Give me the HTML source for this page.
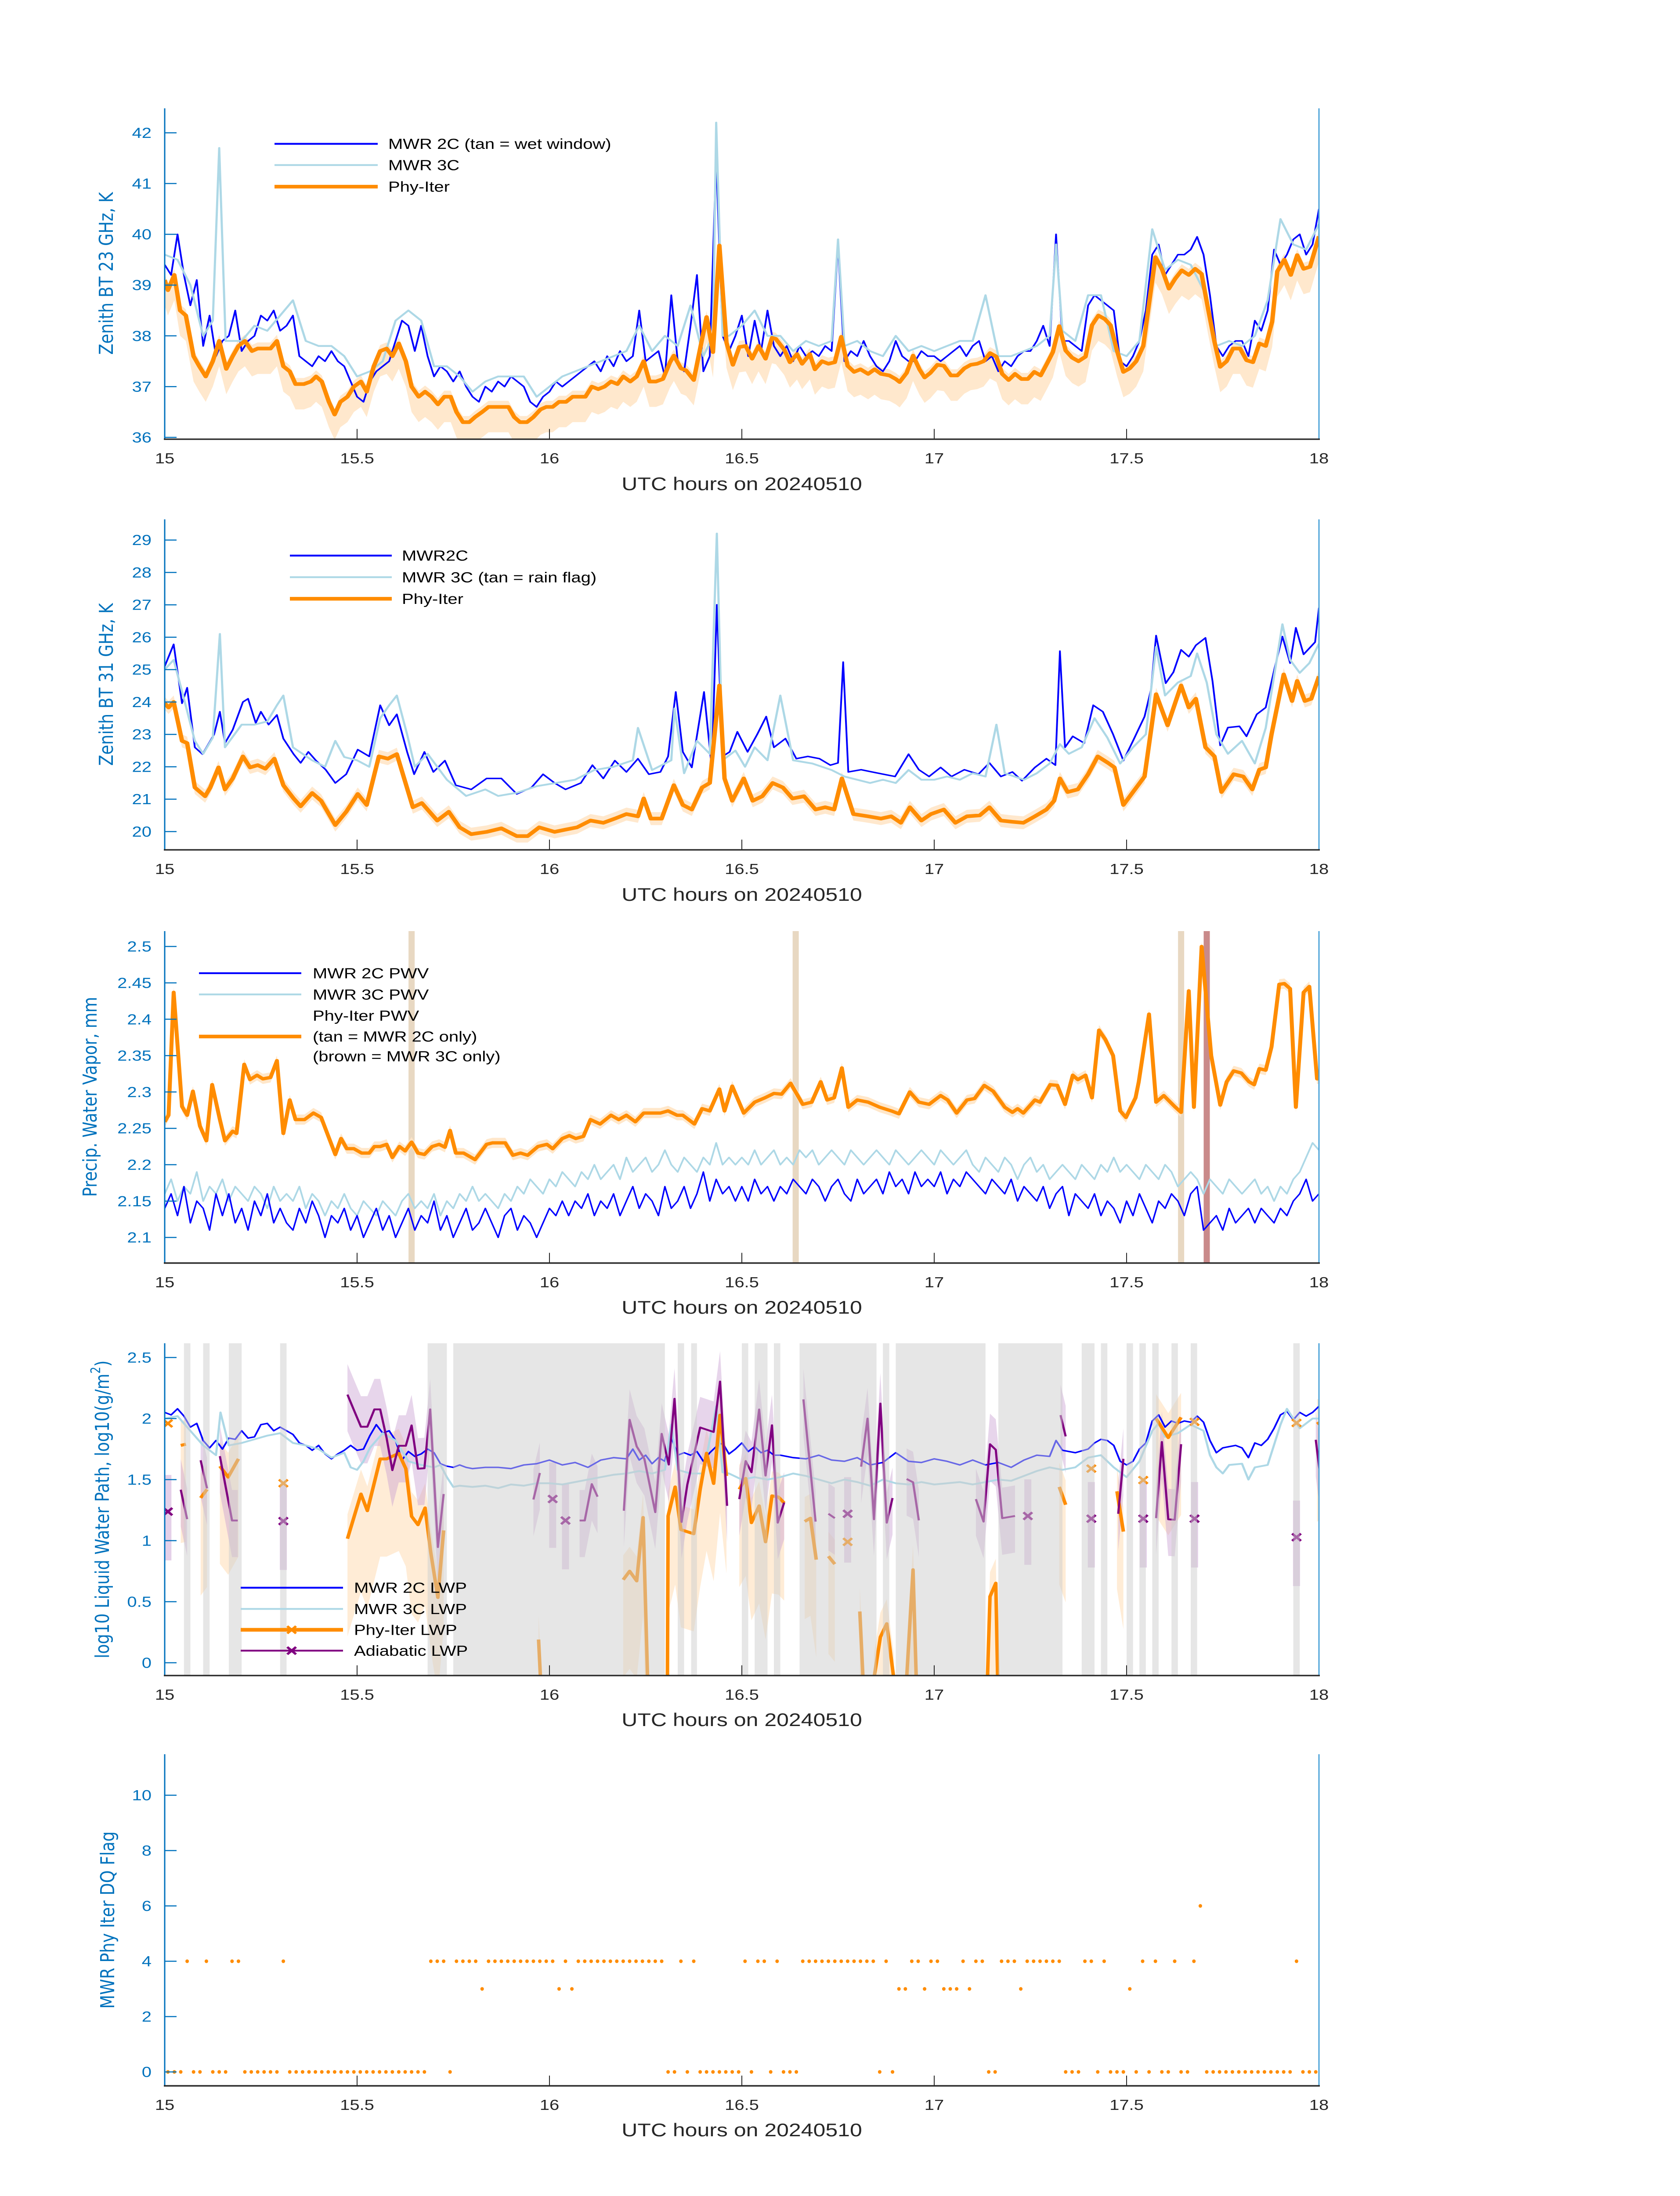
<!DOCTYPE html>
<html><head><meta charset="utf-8"><title>MWR comparison 20240510</title>
<style>
html,body{margin:0;padding:0;background:#fff;width:100%;height:100%;overflow:hidden;}
svg{display:block;position:absolute;left:0;top:0;width:100vw;height:100vh;}
text{font-family:"Liberation Sans",sans-serif;}
.yl{font-family:"DejaVu Sans","Liberation Sans",sans-serif;}
</style></head>
<body>
<svg id="chart" xmlns="http://www.w3.org/2000/svg" viewBox="0 0 3825 6000" preserveAspectRatio="none">
<rect x="0" y="0" width="3825" height="6000" fill="#ffffff"/>
<g id="layer"></g>
<g id="labels">
<text class="yl" x="242" y="747" font-size="44" fill="#0072BD" text-anchor="middle" dominant-baseline="central" transform="rotate(-90 242 747)">Zenith BT 23 GHz, K</text>
<text class="yl" x="242" y="1870" font-size="44" fill="#0072BD" text-anchor="middle" dominant-baseline="central" transform="rotate(-90 242 1870)">Zenith BT 31 GHz, K</text>
<text class="yl" x="205" y="2997" font-size="44" fill="#0072BD" text-anchor="middle" dominant-baseline="central" transform="rotate(-90 205 2997)">Precip. Water Vapor, mm</text>
<text class="yl" x="233" y="4124" font-size="44" fill="#0072BD" text-anchor="middle" dominant-baseline="central" transform="rotate(-90 233 4124)">log10 Liquid Water Path, log10(g/m<tspan font-size="30" dy="-16">2</tspan><tspan dy="16">)</tspan></text>
<text class="yl" x="245" y="5246" font-size="44" fill="#0072BD" text-anchor="middle" dominant-baseline="central" transform="rotate(-90 245 5246)">MWR Phy Iter DQ Flag</text>
<text x="1689" y="1339" font-size="50" fill="#262626" text-anchor="middle">UTC hours on 20240510</text>
<text x="1689" y="2461" font-size="50" fill="#262626" text-anchor="middle">UTC hours on 20240510</text>
<text x="1689" y="3589" font-size="50" fill="#262626" text-anchor="middle">UTC hours on 20240510</text>
<text x="1689" y="4716" font-size="50" fill="#262626" text-anchor="middle">UTC hours on 20240510</text>
<text x="1689" y="5837" font-size="50" fill="#262626" text-anchor="middle">UTC hours on 20240510</text>
<g>
<line x1="625" y1="393" x2="860" y2="393" stroke="#0000FF" stroke-width="5"/>
<text x="884" y="407" font-size="40">MWR 2C (tan = wet window)</text>
<line x1="625" y1="451" x2="860" y2="451" stroke="#ADD8E6" stroke-width="5"/>
<text x="884" y="465" font-size="40">MWR 3C</text>
<line x1="625" y1="510" x2="860" y2="510" stroke="#FF8C00" stroke-width="10"/>
<text x="884" y="524" font-size="40">Phy-Iter</text>
</g>
<g>
<line x1="660" y1="1518" x2="892" y2="1518" stroke="#0000FF" stroke-width="5"/>
<text x="915" y="1532" font-size="40">MWR2C</text>
<line x1="660" y1="1577" x2="892" y2="1577" stroke="#ADD8E6" stroke-width="5"/>
<text x="915" y="1591" font-size="40">MWR 3C (tan = rain flag)</text>
<line x1="660" y1="1636" x2="892" y2="1636" stroke="#FF8C00" stroke-width="10"/>
<text x="915" y="1650" font-size="40">Phy-Iter</text>
</g>
<g>
<line x1="453" y1="2659" x2="686" y2="2659" stroke="#0000FF" stroke-width="5"/>
<text x="712" y="2673" font-size="40">MWR 2C PWV</text>
<line x1="453" y1="2717" x2="686" y2="2717" stroke="#ADD8E6" stroke-width="5"/>
<text x="712" y="2731" font-size="40">MWR 3C PWV</text>
<text x="712" y="2789" font-size="40">Phy-Iter PWV</text>
<line x1="453" y1="2832" x2="686" y2="2832" stroke="#FF8C00" stroke-width="10"/>
<text x="712" y="2846" font-size="40">(tan = MWR 2C only)</text>
<text x="712" y="2900" font-size="40">(brown = MWR 3C only)</text>
</g>
<g>
<line x1="548" y1="4338" x2="781" y2="4338" stroke="#0000FF" stroke-width="5"/>
<text x="806" y="4352" font-size="40">MWR 2C LWP</text>
<line x1="548" y1="4396" x2="781" y2="4396" stroke="#ADD8E6" stroke-width="5"/>
<text x="806" y="4410" font-size="40">MWR 3C LWP</text>
<line x1="548" y1="4453" x2="781" y2="4453" stroke="#FF8C00" stroke-width="10"/>
<path d="M654 4443 L674 4463 M654 4463 L674 4443" stroke="#FF8C00" stroke-width="6"/>
<text x="806" y="4467" font-size="40">Phy-Iter LWP</text>
<line x1="548" y1="4510" x2="781" y2="4510" stroke="#800080" stroke-width="5"/>
<path d="M654 4500 L674 4520 M654 4520 L674 4500" stroke="#800080" stroke-width="6"/>
<text x="806" y="4524" font-size="40">Adiabatic LWP</text>
</g>
</g>
</svg>
<script>
// ===== x categories: ticks (minutes after 15 UTC) =====
const xTickMin = [0, 30, 60, 90, 120, 150, 180];
const xTickLabels = ["15", "15.5", "16", "16.5", "17", "17.5", "18"];

// ===== Panel 1: 23 GHz BT =====
const bt23Ticks = [36, 37, 38, 39, 40, 41, 42];
const bt23_2c = [39.4,39.2,40.0,39.2,38.6,39.1,37.8,38.4,37.6,37.9,38.0,38.5,37.7,37.9,38.0,38.4,38.3,38.5,38.1,38.2,38.4,37.6,37.5,37.4,37.6,37.5,37.7,37.5,37.4,37.1,36.8,36.7,37.1,37.3,37.4,37.5,37.9,38.3,38.2,37.7,38.2,37.6,37.2,37.4,37.3,37.1,37.3,37.0,36.8,36.7,37.0,36.9,37.1,37.0,37.2,37.1,37.0,36.7,36.6,36.8,36.9,37.1,37.0,37.1,37.2,37.3,37.4,37.5,37.3,37.6,37.4,37.7,37.5,37.6,38.5,37.5,37.6,37.7,37.2,38.8,37.5,37.3,38.2,39.2,37.3,37.6,41.5,38.0,37.7,38.0,38.4,37.6,38.3,37.7,38.5,37.8,37.6,37.8,37.5,37.8,37.6,37.7,37.6,37.8,37.7,39.8,37.5,37.7,37.6,37.9,37.6,37.4,37.3,37.5,37.9,37.6,37.5,37.5,37.7,37.6,37.6,37.5,37.6,37.7,37.8,37.6,37.8,37.9,37.5,37.6,37.3,37.5,37.4,37.6,37.7,37.7,37.9,38.2,37.8,40.0,37.9,37.9,37.8,37.7,38.6,38.8,38.7,38.6,38.5,37.5,37.4,37.6,37.9,38.5,39.6,39.8,39.2,39.4,39.6,39.6,39.7,39.95,39.6,38.8,37.8,37.6,37.8,37.9,37.9,37.6,38.3,38.1,38.5,39.7,39.4,39.6,39.9,40.0,39.6,39.8,40.5];
const bt23_3c = [[0,39.6],[2,39.5],[4,39.0],[6,38.0],[7.5,38.3],[8.5,41.7],[9.5,37.9],[12,37.9],[14,38.2],[16,38.1],[18,38.4],[20,38.7],[22,37.9],[24,37.8],[26,37.8],[28,37.6],[30,37.2],[32,37.3],[34,37.5],[36,38.3],[38,38.5],[40,38.3],[42,37.4],[44,37.4],[46,37.2],[48,36.9],[50,37.1],[52,37.2],[54,37.2],[56,37.2],[58,36.8],[60,37.0],[62,37.2],[64,37.3],[66,37.4],[68,37.5],[70,37.6],[72,37.7],[74,38.2],[76,37.7],[78,38.0],[80,37.8],[82,38.6],[84,37.6],[85.5,38.0],[86,42.2],[87,38.0],[88,38.0],[90,38.2],[92,38.5],[94,38.0],[96,38.0],[98,37.7],[100,37.9],[102,37.8],[104,37.9],[105,39.9],[106,37.8],[108,37.9],[110,37.7],[112,37.6],[114,38.0],[116,37.7],[118,37.8],[120,37.7],[122,37.8],[124,37.9],[126,37.9],[128,38.8],[130,37.6],[132,37.6],[134,37.7],[136,37.8],[138,38.0],[139,39.8],[140,38.1],[142,37.9],[144,38.8],[146,38.8],[148,37.7],[150,37.6],[152,37.9],[154,40.1],[156,39.3],[158,39.5],[160,39.4],[162,38.9],[164,37.8],[166,37.9],[168,37.8],[170,38.0],[172,38.7],[174,40.3],[176,39.8],[178,39.7],[180,40.2]];
const bt23_phy = [[0,39.1],[0.5,38.9],[1.5,39.2],[2.4,38.5],[3.3,38.4],[4.5,37.6],[5.4,37.4],[6.4,37.2],[7.5,37.5],[8.5,37.9],[9.6,37.35],[10.6,37.6],[11.5,37.8],[12.5,37.9],[13.6,37.7],[14.5,37.75],[15.5,37.75],[16.5,37.75],[17.5,37.9],[18.5,37.4],[19.5,37.3],[20.4,37.05],[21.7,37.05],[22.8,37.1],[23.6,37.2],[24.5,37.1],[25.6,36.7],[26.5,36.45],[27.4,36.7],[28.5,36.8],[29.5,37.0],[30.6,37.1],[31.5,36.9],[32.6,37.4],[33.6,37.7],[34.6,37.75],[35.5,37.6],[36.5,37.85],[37.6,37.5],[38.5,37.0],[39.6,36.8],[40.6,36.9],[41.6,36.8],[42.6,36.65],[43.6,36.8],[44.6,36.8],[45.5,36.5],[46.5,36.3],[47.5,36.3],[48.4,36.4],[49.5,36.5],[50.5,36.6],[51.6,36.6],[52.5,36.6],[53.6,36.6],[54.5,36.4],[55.4,36.3],[56.5,36.3],[57.5,36.4],[58.6,36.55],[59.5,36.6],[60.5,36.6],[61.5,36.7],[62.6,36.7],[63.6,36.8],[64.5,36.8],[65.6,36.8],[66.6,37.0],[67.6,36.95],[68.6,37.0],[69.6,37.1],[70.6,37.05],[71.5,37.2],[72.6,37.1],[73.6,37.2],[74.7,37.5],[75.6,37.1],[76.6,37.1],[77.7,37.15],[78.8,37.48],[79.4,37.61],[80.5,37.36],[81.3,37.32],[82.5,37.13],[83.5,37.75],[84.5,38.37],[85.5,37.68],[86.5,39.78],[87.6,37.87],[88.6,37.43],[89.6,37.78],[90.6,37.8],[91.6,37.55],[92.6,37.8],[93.7,37.55],[94.7,37.96],[95.3,37.94],[96.6,37.73],[97.5,37.48],[98.6,37.64],[99.4,37.45],[100.6,37.64],[101.4,37.34],[102.5,37.5],[103.5,37.45],[104.5,37.48],[105.5,37.98],[106.5,37.41],[107.5,37.29],[108.5,37.34],[109.7,37.25],[110.7,37.34],[111.7,37.25],[113,37.22],[114,37.15],[114.6,37.09],[115.7,37.27],[116.7,37.61],[117.7,37.34],[118.5,37.18],[119.4,37.27],[120.5,37.43],[121.5,37.41],[122.6,37.22],[123.6,37.22],[124.7,37.36],[125.7,37.43],[126.7,37.45],[127.7,37.5],[128.7,37.66],[129.7,37.59],[130.6,37.25],[131.6,37.13],[132.6,37.25],[133.6,37.15],[134.6,37.15],[135.6,37.29],[136.6,37.22],[137.7,37.48],[138.5,37.68],[139.5,38.19],[140.5,37.71],[141.5,37.57],[142.5,37.5],[143.6,37.59],[144.6,38.21],[145.6,38.4],[146.6,38.33],[147.5,38.21],[148.5,37.71],[149.5,37.29],[150.5,37.36],[151.5,37.5],[152.6,37.8],[153.4,38.54],[154.5,39.55],[155.5,39.32],[156.6,38.93],[157.6,39.13],[158.6,39.29],[159.7,39.2],[160.7,39.32],[161.7,39.22],[162.7,38.54],[163.7,37.89],[164.6,37.39],[165.6,37.5],[166.6,37.75],[167.7,37.75],[168.7,37.52],[169.7,37.48],[170.7,37.85],[171.7,37.8],[172.7,38.28],[173.5,39.27],[174.6,39.5],[175.6,39.2],[176.6,39.59],[177.6,39.32],[178.6,39.36],[180,39.96]];

// ===== Panel 2: 31 GHz BT =====
const bt31Ticks = [20, 21, 22, 23, 24, 25, 26, 27, 28, 29];
const bt31_2c = [[0,25.1],[1.4,25.78],[2.7,23.96],[3.5,24.44],[4.7,22.6],[5.9,22.39],[7.7,23.0],[8.6,23.7],[9.4,22.73],[10.6,23.14],[12.2,24.0],[13,24.1],[14.2,23.35],[15,23.7],[16.2,23.3],[17.5,23.6],[18.5,22.87],[20.1,22.39],[21.2,22.12],[22.4,22.46],[23.6,22.19],[25.1,21.91],[26.6,21.5],[28.3,21.77],[30.1,22.53],[31.9,22.32],[33.6,23.9],[35,23.28],[36.2,23.62],[37.8,22.46],[38.9,21.77],[40.5,22.46],[41.9,21.84],[43.7,22.19],[45.4,21.43],[47.8,21.3],[50.2,21.64],[52.5,21.64],[54.9,21.16],[57.2,21.36],[59,21.77],[60.8,21.5],[62.5,21.3],[64.9,21.5],[66.7,22.05],[68.4,21.64],[70.2,22.19],[72,21.84],[73.8,22.25],[75.5,21.77],[77.3,21.84],[78.5,22.32],[79.7,24.31],[80.8,22.46],[82.2,21.98],[84.1,24.31],[85.3,21.98],[86.1,27.0],[87,22.32],[88.1,22.46],[89.3,23.08],[90.9,22.46],[92.4,23.0],[93.8,23.55],[95,22.6],[96.8,22.87],[98.5,22.25],[100.3,22.32],[102.1,22.25],[103.8,22.05],[105,22.12],[105.8,25.23],[106.6,21.84],[108.6,21.91],[110.3,21.84],[112.1,21.77],[113.9,21.7],[116,22.39],[117.6,21.91],[119.2,21.7],[121,21.98],[122.7,21.7],[124.7,21.91],[126.9,21.77],[128.6,22.12],[130.4,21.7],[132.2,21.84],[133.7,21.57],[135.7,21.98],[137.5,22.25],[138.9,22.05],[139.6,25.57],[140.4,22.6],[141.6,22.94],[143.4,22.73],[144.8,23.9],[146.3,23.7],[147.9,23.0],[149.5,22.19],[151,22.8],[152.8,23.55],[153.8,24.38],[154.6,26.05],[156.1,24.58],[157.3,24.92],[158.5,25.61],[159.7,25.4],[160.8,25.75],[162.3,25.98],[163.4,24.65],[164.6,22.66],[165.8,23.21],[167.6,23.25],[168.7,22.94],[170.3,23.62],[171.7,23.83],[173.1,25.06],[174.3,26.02],[175.5,25.2],[176.4,26.29],[177.6,25.47],[179.4,25.85],[180,26.91]];
const bt31_3c = [[0,25.0],[1.4,25.3],[3,24.1],[4.7,22.8],[6,22.4],[7.5,22.9],[8.6,26.1],[9.4,22.6],[12,23.3],[14,23.3],[16,23.4],[17.5,23.9],[18.5,24.2],[20,22.6],[23,22.2],[25,22.0],[26.6,22.8],[28,22.3],[30,22.2],[31.9,22.0],[33.6,23.5],[35,23.9],[36.2,24.2],[37.8,23.0],[39,22.0],[41,22.4],[44,21.6],[47,21.1],[50,21.3],[52,21.1],[55,21.2],[58,21.4],[61,21.5],[64,21.6],[67,21.9],[70,22.0],[73,22.2],[73.8,23.2],[76,21.9],[79,22.2],[79.5,23.8],[81,21.8],[83,22.8],[85,22.4],[86.1,29.2],[87,22.2],[89,22.5],[90.5,22.0],[92,22.6],[94,22.2],[96,24.2],[98,22.2],[101,22.1],[104,21.9],[106,21.7],[108,21.6],[110,21.5],[112,21.6],[114,21.5],[116,21.9],[118,21.6],[120,21.6],[122,21.7],[124,21.6],[126,21.8],[128,21.7],[129.7,23.3],[131,21.8],[134,21.6],[136,21.8],[138,22.1],[139.6,22.7],[141,22.4],[143,22.6],[145,23.5],[147,22.9],[149,22.1],[151,22.6],[153,23.0],[154.6,25.7],[156,24.2],[158,24.6],[160,24.8],[161,25.5],[162.5,24.6],[164,23.0],[165.8,22.4],[168,22.8],[170,22.1],[171.7,23.2],[173,24.8],[174.3,26.4],[175.5,25.3],[177,24.9],[178.5,25.2],[180,25.8]];
const bt31_phy = [[0,23.96],[0.6,23.83],[1.4,24.0],[2.7,22.8],[3.5,22.73],[4.7,21.36],[6.3,21.09],[7.1,21.36],[8.4,21.98],[9.4,21.3],[10.6,21.64],[12.2,22.32],[13.3,21.98],[14.5,22.05],[15.7,21.94],[17.1,22.25],[18.5,21.43],[20.1,21.02],[21.2,20.78],[23,21.19],[24.4,20.95],[26.6,20.2],[28.3,20.61],[30.1,21.16],[31.5,20.82],[33.4,22.32],[34.8,22.25],[36.2,22.39],[38.7,20.75],[40.1,20.88],[42.5,20.34],[44.3,20.61],[46,20.13],[47.8,19.92],[50.2,19.99],[52.5,20.1],[54.9,19.86],[56.6,19.86],[58.4,20.13],[60.8,19.99],[62.5,20.06],[64.3,20.13],[66.4,20.34],[68.4,20.27],[70.2,20.4],[72,20.54],[73.8,20.47],[74.7,21.02],[75.8,20.4],[77.5,20.4],[79.4,21.43],[80.8,20.82],[82.2,20.68],[83.8,21.36],[85,21.5],[86.5,24.51],[87.3,21.64],[88.5,20.95],[90.3,21.64],[91.7,20.95],[93.2,21.09],[94.8,21.5],[96.4,21.36],[97.9,21.02],[99.7,21.09],[101.5,20.68],[103,20.75],[104.4,20.68],[105.6,21.64],[107.4,20.54],[109.7,20.47],[111.7,20.4],[113.3,20.47],[114.8,20.27],[116.2,20.75],[118,20.34],[119.5,20.54],[121.5,20.68],[123.3,20.27],[125.1,20.47],[127.1,20.5],[128.6,20.75],[130.4,20.34],[132.2,20.3],[133.9,20.27],[135.7,20.47],[137.5,20.68],[138.7,20.95],[139.6,21.64],[140.8,21.22],[142.4,21.3],[144,21.77],[145.5,22.32],[147.1,22.12],[148.1,21.98],[149.5,20.82],[151,21.22],[152.8,21.7],[154.6,24.24],[156.4,23.28],[158.5,24.51],[159.7,23.83],[160.8,24.1],[162.3,22.6],[163.7,22.32],[164.8,21.22],[166.7,21.77],[168.2,21.7],[169.6,21.3],[170.7,21.91],[171.7,21.98],[172.6,23.0],[174.5,24.85],[175.8,24.03],[176.6,24.65],[177.8,24.03],[178.8,24.1],[180,24.79]];

// ===== Panel 3: PWV =====
const pwvTicks = [2.1, 2.15, 2.2, 2.25, 2.3, 2.35, 2.4, 2.45, 2.5];
const pwvTickLabels = ["2.1", "2.15", "2.2", "2.25", "2.3", "2.35", "2.4", "2.45", "2.5"];
const pwv_2c = [2.14,2.16,2.13,2.17,2.12,2.15,2.14,2.11,2.16,2.13,2.16,2.12,2.14,2.11,2.15,2.13,2.16,2.12,2.14,2.12,2.11,2.14,2.12,2.15,2.13,2.10,2.13,2.12,2.14,2.11,2.13,2.10,2.12,2.14,2.11,2.13,2.10,2.12,2.14,2.11,2.13,2.12,2.15,2.11,2.13,2.10,2.12,2.14,2.11,2.12,2.14,2.12,2.10,2.13,2.14,2.11,2.13,2.12,2.10,2.12,2.14,2.13,2.15,2.13,2.15,2.14,2.16,2.13,2.15,2.14,2.16,2.13,2.15,2.17,2.14,2.16,2.15,2.13,2.17,2.14,2.15,2.17,2.14,2.16,2.19,2.15,2.18,2.16,2.17,2.15,2.17,2.15,2.18,2.16,2.17,2.15,2.17,2.16,2.18,2.17,2.16,2.18,2.17,2.15,2.17,2.18,2.16,2.15,2.18,2.16,2.17,2.18,2.16,2.19,2.17,2.18,2.16,2.19,2.17,2.18,2.17,2.19,2.16,2.18,2.17,2.19,2.18,2.17,2.16,2.18,2.17,2.16,2.18,2.15,2.17,2.16,2.15,2.17,2.14,2.16,2.17,2.13,2.16,2.15,2.14,2.16,2.13,2.15,2.14,2.12,2.15,2.13,2.16,2.14,2.12,2.15,2.14,2.16,2.15,2.13,2.16,2.17,2.11,2.12,2.13,2.11,2.14,2.12,2.13,2.14,2.12,2.14,2.13,2.12,2.14,2.13,2.15,2.16,2.18,2.15,2.16];
const pwv_3c = [2.16,2.18,2.15,2.17,2.16,2.19,2.15,2.17,2.16,2.18,2.15,2.17,2.16,2.15,2.17,2.16,2.14,2.17,2.15,2.16,2.15,2.17,2.14,2.16,2.15,2.13,2.15,2.14,2.16,2.14,2.13,2.15,2.14,2.13,2.15,2.14,2.13,2.15,2.16,2.14,2.15,2.14,2.16,2.13,2.15,2.14,2.16,2.15,2.17,2.15,2.16,2.15,2.14,2.16,2.15,2.17,2.16,2.18,2.17,2.16,2.18,2.17,2.19,2.18,2.17,2.19,2.18,2.20,2.18,2.19,2.20,2.18,2.21,2.19,2.20,2.21,2.19,2.20,2.22,2.20,2.19,2.21,2.20,2.19,2.21,2.20,2.23,2.20,2.21,2.20,2.21,2.20,2.22,2.20,2.21,2.22,2.20,2.21,2.20,2.22,2.21,2.22,2.20,2.21,2.22,2.21,2.20,2.22,2.21,2.20,2.21,2.22,2.21,2.20,2.22,2.21,2.20,2.21,2.22,2.21,2.20,2.22,2.21,2.20,2.21,2.22,2.20,2.19,2.21,2.20,2.19,2.21,2.20,2.18,2.20,2.21,2.19,2.20,2.18,2.19,2.20,2.19,2.18,2.20,2.19,2.18,2.20,2.19,2.21,2.19,2.20,2.19,2.18,2.20,2.19,2.18,2.20,2.19,2.17,2.18,2.19,2.18,2.16,2.18,2.17,2.16,2.18,2.17,2.16,2.17,2.18,2.16,2.17,2.15,2.17,2.16,2.18,2.19,2.21,2.23,2.22];
const pwv_phy = [[0,2.259],[0.6,2.268],[1.4,2.437],[2.7,2.28],[3.5,2.268],[4.4,2.301],[5.5,2.253],[6.5,2.233],[7.4,2.31],[8.6,2.262],[9.4,2.233],[10.6,2.246],[11.2,2.243],[12.4,2.338],[13.3,2.317],[14.4,2.323],[15.3,2.318],[16.5,2.32],[17.5,2.343],[18.5,2.243],[19.5,2.289],[20.4,2.262],[21.8,2.262],[23.2,2.271],[24.4,2.265],[26.6,2.214],[27.5,2.236],[28.4,2.222],[29.5,2.222],[30.7,2.216],[31.9,2.216],[32.7,2.225],[33.6,2.225],[34.6,2.228],[35.5,2.21],[36.6,2.225],[37.5,2.219],[38.5,2.231],[39.5,2.216],[40.5,2.214],[41.7,2.225],[42.8,2.228],[43.7,2.224],[44.5,2.247],[45.4,2.216],[46.6,2.216],[48.4,2.207],[50.2,2.228],[51.1,2.23],[53.1,2.23],[54.3,2.213],[55.5,2.216],[56.6,2.213],[58.2,2.225],[59.6,2.228],[60.5,2.222],[62,2.236],[63.1,2.24],[64.1,2.236],[65.3,2.239],[66.4,2.262],[67.9,2.256],[69.6,2.268],[70.8,2.262],[72,2.268],[73.4,2.259],[74.7,2.271],[76.1,2.271],[77.3,2.271],[78.5,2.274],[79.9,2.268],[80.8,2.268],[82.6,2.256],[83.8,2.277],[85,2.274],[86.5,2.304],[87.3,2.274],[88.5,2.308],[90.3,2.271],[92,2.286],[93.6,2.292],[95,2.298],[96.2,2.297],[97.6,2.312],[99.5,2.283],[100.9,2.286],[102.3,2.314],[103.3,2.289],[104.4,2.292],[105.6,2.333],[106.6,2.279],[108,2.289],[109.7,2.286],[111.5,2.279],[113.3,2.274],[114.5,2.27],[116.2,2.3],[117.6,2.286],[119.2,2.283],[121,2.295],[122.1,2.289],[123.5,2.271],[125.1,2.289],[126.3,2.291],[127.8,2.309],[129.2,2.301],[131,2.279],[132.2,2.272],[133,2.277],[133.9,2.271],[135.7,2.289],[136.5,2.286],[138.1,2.31],[139.2,2.309],[140.4,2.283],[141.6,2.323],[142.4,2.317],[143.6,2.323],[144.6,2.292],[145.7,2.385],[146.7,2.372],[147.9,2.35],[149,2.274],[149.9,2.265],[151.4,2.292],[151.9,2.314],[153.5,2.407],[154.6,2.286],[155.8,2.295],[157.5,2.28],[158.5,2.272],[159.7,2.439],[160.5,2.279],[161.7,2.5],[163.2,2.35],[164.6,2.282],[165.6,2.314],[166.7,2.329],[167.9,2.326],[169.1,2.314],[169.9,2.31],[170.7,2.332],[171.7,2.33],[172.6,2.362],[173.8,2.448],[174.6,2.449],[175.5,2.442],[176.4,2.279],[177.6,2.437],[178.5,2.445],[179.7,2.318],[180,2.318]];
const pwvTanFlagMin = [38.5, 98.4, 158.5];
const pwvBrownFlagMin = [162.5];

// ===== Panel 4: LWP =====
const lwpTicks = [0, 0.5, 1, 1.5, 2, 2.5];
const lwpTickLabels = ["0", "0.5", "1", "1.5", "2", "2.5"];
const lwp_2c = [[0,2.05],[1,2.03],[2,2.08],[3,2.02],[4,1.93],[5,1.96],[6,1.82],[7,1.76],[8,1.82],[9,1.75],[10,1.84],[11,1.83],[12,1.9],[13,1.84],[14,1.85],[15,1.95],[16,1.96],[17,1.9],[18,1.93],[19,1.9],[20,1.87],[21,1.8],[22,1.78],[23,1.74],[24,1.78],[25,1.71],[26,1.67],[27,1.71],[28,1.74],[29,1.78],[30,1.74],[31,1.75],[32,1.86],[33,1.95],[34,1.88],[35,1.9],[36,1.82],[37,1.66],[38,1.73],[39,1.69],[40,1.71],[41,1.75],[42,1.72],[43,1.63],[44,1.61],[45,1.6],[46,1.62],[47,1.6],[48,1.59],[50,1.6],[52,1.6],[54,1.59],[56,1.62],[58,1.63],[60,1.66],[62,1.62],[64,1.64],[66,1.6],[68,1.66],[70,1.68],[72,1.67],[73,1.75],[74,1.66],[75,1.7],[76,1.63],[77,1.68],[78,1.65],[79,1.85],[80,1.7],[81,1.72],[82,1.7],[83,1.73],[84,1.65],[85,1.72],[86,1.77],[87,1.8],[88,1.71],[89,1.75],[90,1.8],[91,1.73],[92,1.77],[93,1.72],[94,1.74],[95,1.7],[96,1.7],[98,1.68],[100,1.67],[102,1.7],[104,1.66],[106,1.65],[108,1.68],[110,1.62],[112,1.64],[114,1.72],[116,1.65],[118,1.64],[120,1.67],[122,1.65],[124,1.62],[126,1.66],[128,1.62],[130,1.64],[132,1.6],[134,1.66],[136,1.7],[138,1.69],[139,1.82],[140,1.74],[142,1.72],[144,1.75],[145,1.8],[146,1.83],[147,1.82],[148,1.78],[149,1.65],[150,1.62],[151,1.65],[152,1.75],[153,1.8],[154,1.98],[155,2.03],[156,1.93],[157,1.98],[158,1.96],[159,1.98],[160,1.97],[161,2.02],[162,1.97],[163,1.82],[164,1.72],[165,1.76],[166,1.77],[167,1.78],[168,1.76],[169,1.68],[170,1.8],[171,1.78],[172,1.83],[173,1.92],[174,2.03],[175,2.06],[176,1.99],[177,2.05],[178,2.02],[179,2.05],[180,2.1]];
const lwp_3c = [[0,2.0],[2,2.02],[4,1.9],[6,1.78],[8,1.7],[8.7,2.05],[10,1.78],[12,1.8],[14,1.83],[16,1.86],[18,1.88],[20,1.8],[22,1.78],[24,1.75],[26,1.68],[28,1.72],[29,1.6],[30,1.58],[31,1.65],[32,1.76],[34,1.88],[36,1.82],[38,1.65],[40,1.62],[42,1.6],[43,1.62],[44,1.52],[45,1.44],[46,1.45],[48,1.44],[50,1.45],[52,1.43],[54,1.46],[56,1.45],[58,1.47],[60,1.47],[62,1.46],[64,1.48],[66,1.5],[68,1.52],[70,1.54],[72,1.55],[74,1.57],[76,1.55],[78,1.58],[79,1.95],[80,1.58],[82,1.55],[84,1.55],[86,2.1],[87,1.56],[88,1.55],[90,1.5],[92,1.52],[94,1.5],[96,1.52],[98,1.55],[100,1.53],[102,1.5],[104,1.47],[106,1.5],[108,1.48],[110,1.45],[112,1.5],[114,1.47],[116,1.46],[118,1.48],[120,1.46],[122,1.47],[124,1.48],[126,1.46],[128,1.48],[130,1.5],[132,1.49],[134,1.53],[136,1.57],[138,1.6],[140,1.58],[142,1.6],[144,1.68],[146,1.7],[148,1.6],[150,1.52],[152,1.65],[154,1.9],[155,1.96],[156,1.85],[158,1.88],[160,1.95],[162,1.9],[163,1.7],[164,1.6],[165,1.55],[166,1.62],[168,1.63],[169,1.5],[170,1.6],[172,1.62],[174,1.95],[175,2.08],[176,2.0],[177,1.92],[178,1.96],[179,2.0],[180,2.0]];
const lwp_phy = [[2.5,1.78],[3.3,1.79],null,[5.6,1.35],[6.6,1.42],null,[8.6,1.61],[9.9,1.52],[11.5,1.67],null,[28.5,1.016],[30.6,1.382],[31.6,1.245],[33.6,1.669],[34.6,1.669],[36.5,1.715],[37.6,1.589],[38.5,1.199],[39.5,1.13],[40.6,1.268],[41.5,0.9],[42.6,0.534],[43.5,1.084],null,[58.3,0.19],[58.6,-0.13],null,[71.5,0.68],[72.5,0.75],[73.6,0.67],[74.6,1.19],[75.3,-0.13],null,[78.4,-0.13],[78.5,1.202],[79.6,1.44],[80.5,1.09],[82.5,1.056],[83.5,1.42],[84.5,1.716],[85.6,1.468],[86.6,2.028],[87.6,1.53],null,[89.6,1.42],[90.6,1.51],[91.5,1.147],[92.7,1.285],[93.7,0.99],[94.7,1.367],[95.7,1.358],[96.6,1.309],null,[99.8,1.157],[100.7,1.184],[101.6,0.844],null,[103.5,0.872],[104.5,0.808],null,[108.4,0.42],[108.9,-0.13],null,[110.6,-0.13],[111.6,0.21],[112.6,0.32],[113.7,-0.13],null,[115.7,-0.13],[116.7,0.762],[117.2,-0.13],null,[128.3,-0.13],[128.7,0.542],[129.6,0.652],[129.9,-0.13],null,[139.5,1.44],[140.5,1.294],null,[148.5,1.404],[149.5,1.074],null,[154.6,2.0],[156.5,1.844],[158.5,2.01],null,[179.7,1.955],[180.5,1.98]];
const lwp_phyMarks = [[0.5,1.96],[18.5,1.47],[106.5,0.99],[144.5,1.59],[152.6,1.496],[160.6,1.973],[176.5,1.964]];
const lwp_adi = [[2.5,1.417],[3.5,1.176],null,[5.6,1.658],[6.6,1.428],null,[8.6,1.692],[10.5,1.165],[11.4,1.165],null,[28.5,2.196],[29.5,2.07],[30.6,1.933],[31.6,1.933],[32.7,2.075],[33.6,2.075],[34.6,1.841],[35.5,1.577],[36.5,1.777],[37.6,1.777],[38.5,1.944],[39.5,1.589],[40.5,1.593],[41.4,2.075],[42.6,0.947],[43.5,1.382],null,[57.5,1.337],[58.5,1.554],null,[64.7,1.165],[65.5,1.165],[66.6,1.463],[67.5,1.36],null,[71.6,1.245],[72.5,1.99],[73.6,1.772],[74.8,1.669],[76.5,1.233],[77.5,1.875],[78.6,1.623],[79.5,2.162],[80.6,1.153],[81.5,1.459],[83.5,1.927],[85.6,1.89],[86.6,2.303],[87.7,1.285],null,[89.6,1.34],[90.6,1.652],[91.5,1.56],[92.7,2.074],[93.7,1.533],[94.7,1.945],[95.6,1.147],[96.6,1.312],null,[99.6,2.157],[101.5,1.156],null,[103.5,1.22],[104.5,1.184],null,[108.6,1.606],[109.6,2.0],[110.6,1.175],[111.6,2.123],[112.6,1.147],[113.5,1.349],null,[115.7,1.505],[116.7,1.478],[117.6,1.166],null,[126.5,1.34],[127.7,1.156],[128.7,1.79],[129.6,1.744],[130.6,1.184],[132.6,1.202],null,[139.7,2.028],[140.5,1.854],null,[148.7,1.22],[149.5,1.67],null,[154.6,1.184],[155.5,1.808],[156.5,1.175],[157.5,1.171],[158.5,1.79],null,[179.5,1.826],[180.5,1.404]];
const lwp_adiMarks = [[0.5,1.238],[18.5,1.16],[60.5,1.341],[62.5,1.165],[106.5,1.22],[134.6,1.202],[144.5,1.18],[152.6,1.18],[160.6,1.18],[176.5,1.028]];
const lwpRainBands = [[3,4],[6,7],[10,12],[18,19],[41,44],[45,78],[80,81],[82.1,83],[90,91],[92,94],[95,96],[99,111],[112,113],[114,128],[130,140],[143,145],[146,147],[150,151],[152,153],[154,155],[157,158],[160,161],[176,177],[180,180.6]];

// ===== Panel 5: DQ flag =====
const dqTicks = [0, 2, 4, 6, 8, 10];
const dqFlag0Min = [0,1,2,4,5,7,8,9,12,13,14,15,16,17,19,20,21,22,23,24,25,26,27,28,29,30,31,32,33,34,35,36,37,38,39,40,44,78,79,81,83,84,85,86,87,88,89,91,94,96,97,98,111,113,128,129,140,141,142,145,147,148,149,151,153,155,156,158,159,162,163,164,165,166,167,168,169,170,171,172,173,174,175,177,178,179];
const dqFlag3Min = [49,61,63,114,115,118,121,122,123,125,133,150];
const dqFlag4Min = [3,6,10,11,18,41,42,43,45,46,47,48,50,51,52,53,54,55,56,57,58,59,60,62,64,65,66,67,68,69,70,71,72,73,74,75,76,77,80,82,90,92,93,95,99,100,101,102,103,104,105,106,107,108,109,110,112,116,117,119,120,124,126,127,130,131,132,134,135,136,137,138,139,143,144,146,152,154,157,160,176,180];
const dqFlag6Min = [161];

// ===== rendering =====
const NS = 'http://www.w3.org/2000/svg';
const layer = document.getElementById('layer');
function mk(tag, attrs, parent) {
  const e = document.createElementNS(NS, tag);
  for (const k in attrs) e.setAttribute(k, attrs[k]);
  (parent || layer).appendChild(e);
  return e;
}
const X = m => 375 + m * 2628 / 180;
const P = [
  {top: 296, bot: 1200, y: v => 1195 - (v - 36) * 138.7},
  {top: 1419, bot: 2322, y: v => 2272 - (v - 20) * 88.5},
  {top: 2544, bot: 3451, y: v => 3381 - (v - 2.1) * 1987.5},
  {top: 3670, bot: 4578, y: v => 4543 - v * 333.6},
  {top: 4793, bot: 5699, y: v => 5661 - v * 75.6}
];
function clipFor(i) {
  const cp = mk('clipPath', {id: 'clip' + i});
  mk('rect', {x: 375, y: P[i].top, width: 2628, height: P[i].bot - P[i].top}, cp);
  return 'url(#clip' + i + ')';
}
function pairPath(pairs, y) {
  let d = '', pen = false;
  for (const p of pairs) {
    if (!p) { pen = false; continue; }
    d += (pen ? 'L' : 'M') + X(p[0]).toFixed(1) + ' ' + y(p[1]).toFixed(1);
    pen = true;
  }
  return d;
}
function seqPath(vals, step, y) {
  let d = '';
  vals.forEach((v, i) => { d += (i ? 'L' : 'M') + X(i * step).toFixed(1) + ' ' + y(v).toFixed(1); });
  return d;
}
function bandPaths(pairs, y, lo, hi) {
  const out = []; let seg = [];
  const flush = () => {
    if (seg.length > 1) {
      let d = 'M';
      d += seg.map(p => X(p[0]).toFixed(1) + ' ' + y(p[1] + hi).toFixed(1)).join('L');
      d += 'L' + seg.slice().reverse().map(p => X(p[0]).toFixed(1) + ' ' + y(p[1] - lo).toFixed(1)).join('L') + 'Z';
      out.push(d);
    }
    seg = [];
  };
  for (const p of pairs) { if (!p) flush(); else seg.push(p); }
  flush();
  return out;
}
function drawAxes(i, ticks, labels, name) {
  const p = P[i];
  const g = mk('g', {});
  
  
  ticks.forEach((t, k) => {
    const tk = mk('line', {x1: 375, x2: 402, y1: p.y(t), y2: p.y(t), stroke: '#0072BD', 'stroke-width': 3}, g);
    
    
    const tl = mk('text', {x: 345, y: p.y(t) + 14, 'font-size': 40, fill: '#0072BD', 'text-anchor': 'end'}, g);
    
    
    tl.textContent = labels ? labels[k] : String(t);
  });
  xTickMin.forEach((m, k) => {
    const tk = mk('line', {x1: X(m), x2: X(m), y1: p.bot, y2: p.bot - 28, stroke: '#262626', 'stroke-width': 2}, g);
    
    
    const tl = mk('text', {x: X(m), y: p.bot + 66, 'font-size': 40, fill: '#262626', 'text-anchor': 'middle'}, g);
    
    
    tl.textContent = xTickLabels[k];
  });
  const la = mk('line', {x1: 375, x2: 375, y1: p.top, y2: p.bot, stroke: '#0072BD', 'stroke-width': 3}, g);
  
  
  const ra = mk('line', {x1: 3003, x2: 3003, y1: p.top, y2: p.bot, stroke: '#4DA3D9', 'stroke-width': 3}, g);
  
  
  const ba = mk('line', {x1: 373, x2: 3005, y1: p.bot, y2: p.bot, stroke: '#262626', 'stroke-width': 4}, g);
  
  
}
function addLine(d, color, w, name, clip, op) {
  const e = mk('path', {d: d, fill: 'none', stroke: color, 'stroke-width': w, 'stroke-linejoin': 'round', 'clip-path': clip, opacity: op || 1});
  
  
  return e;
}
function addBand(pairs, y, lo, hi, color, op, name, clip) {
  bandPaths(pairs, y, lo, hi).forEach(d => {
    const e = mk('path', {d: d, fill: color, opacity: op, stroke: 'none', 'clip-path': clip});
    
    
  });
}

// Panel 1
(function () {
  const p = P[0], c = clipFor(0);
  addBand(bt23_phy, p.y, 0.5, 0.12, '#FFE4C4', 0.85, 'phyiter-uncertainty-band', c);
  addLine(seqPath(bt23_2c, 1, p.y), '#0000FF', 4, 'mwr2c-bt23-line', c);
  addLine(pairPath(bt23_3c, p.y), '#ADD8E6', 5, 'mwr3c-bt23-line', c);
  addLine(pairPath(bt23_phy, p.y), '#FF8C00', 10, 'phyiter-bt23-line', c);
  drawAxes(0, bt23Ticks, null, 'bt23');
})();
// Panel 2
(function () {
  const p = P[1], c = clipFor(1);
  addBand(bt31_phy, p.y, 0.2, 0.2, '#FFE4C4', 0.85, 'phyiter-uncertainty-band', c);
  addLine(pairPath(bt31_2c, p.y), '#0000FF', 4, 'mwr2c-bt31-line', c);
  addLine(pairPath(bt31_3c, p.y), '#ADD8E6', 5, 'mwr3c-bt31-line', c);
  addLine(pairPath(bt31_phy, p.y), '#FF8C00', 10, 'phyiter-bt31-line', c);
  drawAxes(1, bt31Ticks, null, 'bt31');
})();
// Panel 3
(function () {
  const p = P[2], c = clipFor(2);
  pwvTanFlagMin.forEach(m => {
    const r = mk('rect', {x: X(m) - 7, y: p.top, width: 14, height: p.bot - p.top, fill: '#E8D8C2', 'clip-path': c});
    
    
  });
  pwvBrownFlagMin.forEach(m => {
    const r = mk('rect', {x: X(m) - 7, y: p.top, width: 14, height: p.bot - p.top, fill: '#C98A8A', 'clip-path': c});
    
    
  });
  addBand(pwv_phy, p.y, 0.007, 0.007, '#FFE4C4', 0.9, 'phyiter-pwv-band', c);
  addLine(seqPath(pwv_3c, 1, p.y), '#ADD8E6', 4, 'mwr3c-pwv-line', c);
  addLine(seqPath(pwv_2c, 1, p.y), '#0000FF', 3.5, 'mwr2c-pwv-line', c);
  addLine(pairPath(pwv_phy, p.y), '#FF8C00', 9, 'phyiter-pwv-line', c);
  drawAxes(2, pwvTicks, pwvTickLabels, 'pwv');
})();
// Panel 4
(function () {
  const p = P[3], c = clipFor(3);
  addBand(lwp_phy, p.y, 0.8, 0.2, '#FFDDB5', 0.55, 'phyiter-lwp-band', c);
  addBand(lwp_adi, p.y, 0.3, 0.25, '#C9A2D3', 0.45, 'adiabatic-lwp-band', c);
  lwp_adiMarks.forEach(q => {
    const r = mk('rect', {x: X(q[0]) - 8, y: p.y(q[1] + 0.3), width: 16, height: p.y(q[1] - 0.4) - p.y(q[1] + 0.3), fill: '#C9A2D3', opacity: 0.5, 'clip-path': c});
    
    
  });
  addLine(pairPath(lwp_2c, p.y), '#0000FF', 4, 'mwr2c-lwp-line', c);
  addLine(pairPath(lwp_3c, p.y), '#ADD8E6', 5, 'mwr3c-lwp-line', c);
  addLine(pairPath(lwp_phy, p.y), '#FF8C00', 8, 'phyiter-lwp-line', c);
  addLine(pairPath(lwp_adi, p.y), '#800080', 5, 'adiabatic-lwp-line', c);
  lwp_phyMarks.forEach(q => {
    const x = X(q[0]), y = p.y(q[1]);
    const e = mk('path', {d: `M${x-10} ${y-10}L${x+10} ${y+10}M${x-10} ${y+10}L${x+10} ${y-10}`, stroke: '#FF8C00', 'stroke-width': 6, 'clip-path': c});
    
    
  });
  lwp_adiMarks.forEach(q => {
    const x = X(q[0]), y = p.y(q[1]);
    const e = mk('path', {d: `M${x-10} ${y-10}L${x+10} ${y+10}M${x-10} ${y+10}L${x+10} ${y-10}`, stroke: '#800080', 'stroke-width': 6, 'clip-path': c});
    
    
  });
  lwpRainBands.forEach(b => {
    const r = mk('rect', {x: X(b[0]), y: p.top, width: X(b[1]) - X(b[0]), height: p.bot - p.top, fill: '#CECECE', opacity: 0.5, 'clip-path': c});
    
    
  });
  drawAxes(3, lwpTicks, lwpTickLabels, 'lwp');
})();
// Panel 5
(function () {
  const p = P[4], c = clipFor(4);
  const groups = [[dqFlag0Min, 0], [dqFlag3Min, 3], [dqFlag4Min, 4], [dqFlag6Min, 6]];
  groups.forEach(gv => {
    gv[0].forEach(m => {
      const e = mk('ellipse', {cx: X(m + 0.5), cy: p.y(gv[1]), rx: 4, ry: 5, fill: '#FF8C00', 'clip-path': c});
      
      
    });
  });
  drawAxes(4, dqTicks, null, 'dq');
})();
</script>
</body></html>
